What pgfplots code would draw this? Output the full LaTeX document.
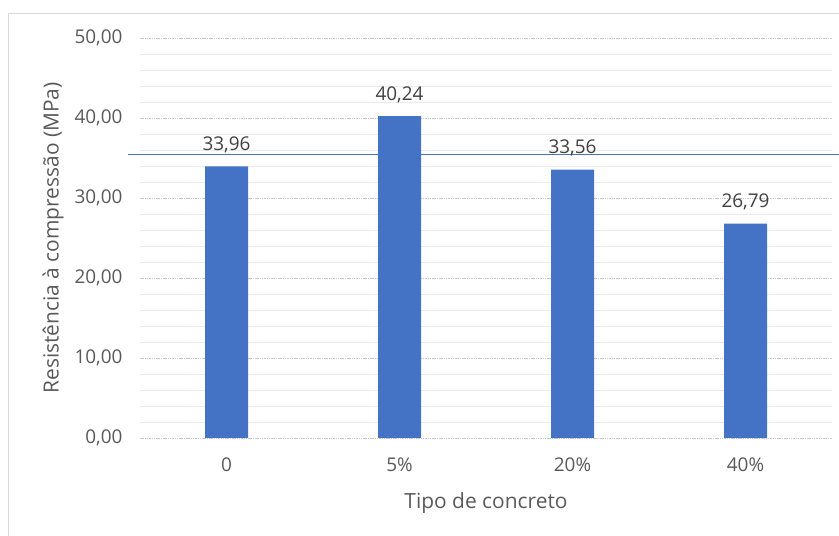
\documentclass[border=0pt]{standalone}
\usepackage{pgfplots}
\pgfplotsset{compat=1.18}
\usepackage{fontspec}
\setmainfont{Open Sans}
\definecolor{barblue}{HTML}{4472C4}
\definecolor{txtgray}{HTML}{595959}
\definecolor{lblgray}{HTML}{404040}
\definecolor{majgrid}{HTML}{C8C8C8}
\definecolor{mingrid}{HTML}{EBEBEB}
\definecolor{frame}{HTML}{D9D9D9}
\begin{document}
\begin{tikzpicture}[x=1bp,y=1bp]
\useasboundingbox (0,0) rectangle (839,536);
\draw[frame, line width=0.8bp] (8.5,0) -- (8.5,523) -- (839,523);
\begin{axis}[
  at={(140bp,98bp)}, anchor=south west,
  width=692bp, height=400bp, scale only axis,
  xmin=-0.5, xmax=3.5, ymin=0, ymax=50,
  xtick={0,1,2,3}, xticklabels={0,5\%,20\%,40\%},
  ytick={0,10,20,30,40,50},
  minor y tick num=4,
  ymajorgrids, yminorgrids,
  major grid style={majgrid, line width=0.8bp, dash pattern=on 1.5bp off 0.8bp},
  minor grid style={mingrid, line width=0.8bp},
  axis x line*=bottom, axis y line*=left,
  x axis line style={majgrid, line width=0.8bp, dash pattern=on 1.5bp off 0.8bp, -},
  y axis line style={draw=none},
  major tick length=0pt, minor tick length=0pt,
  tick style={draw=none},
  /pgf/number format/assume math mode=true,
  ticklabel style={font=\fontsize{19}{21}\selectfont, text=txtgray},
  yticklabel style={xshift=-14bp, /pgf/number format/.cd, fixed, fixed zerofill, precision=2, use comma},
  xticklabel style={yshift=-16bp},
  xlabel={Tipo de concreto},
  ylabel={Resistência à compressão (MPa)},
  xlabel style={font=\fontsize{21}{23}\selectfont, text=txtgray, yshift=-14bp},
  ylabel style={font=\fontsize{21}{23}\selectfont, text=txtgray, yshift=4bp},
  clip=false,
]
\addplot[ybar, bar width=43bp, fill=barblue, draw=none,
  nodes near coords,
  nodes near coords style={font=\fontsize{19}{21}\selectfont, text=lblgray, yshift=10bp,
    /pgf/number format/.cd, fixed, fixed zerofill, precision=2, use comma, assume math mode=true},
] coordinates {(0,33.96) (1,40.24) (2,33.56) (3,26.79)};
\addplot[barblue, line width=1.2bp, no marks] coordinates {(-0.57,35.4) (3.54,35.4)};
\end{axis}
\end{tikzpicture}
\end{document}
